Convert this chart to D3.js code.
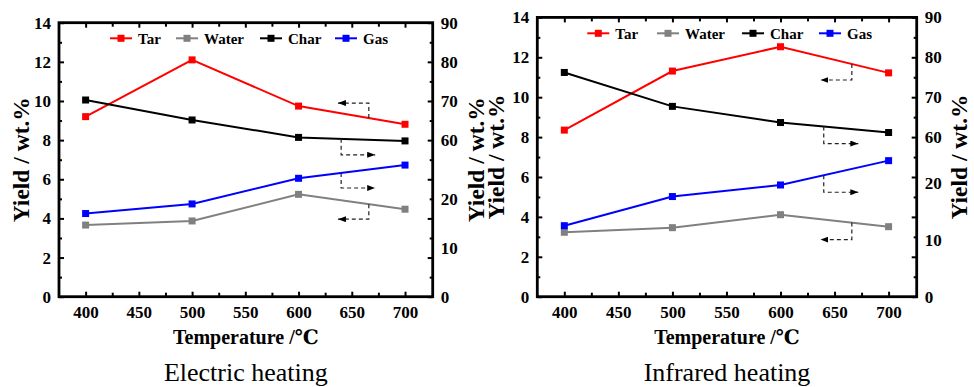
<!DOCTYPE html>
<html><head><meta charset="utf-8">
<script src="https://cdn.jsdelivr.net/npm/d3@7"></script>
<style>body{margin:0;background:#fff}svg{display:block}
svg text{font-family:"Liberation Serif","Times New Roman",Times,"DejaVu Serif",serif;}
</style>
</head><body>
<svg id="chart" width="974" height="387"></svg>
<script>
// ---------------- data ----------------
const temperatures = [400, 500, 600, 700];
const xTickValues = [400, 450, 500, 550, 600, 650, 700];
const xMinorTickValues = [425, 475, 525, 575, 625, 675];
const leftTickValues = [0, 2, 4, 6, 8, 10, 12, 14];
const leftMinorTickValues = [1, 3, 5, 7, 9, 11, 13];
const rightTickValues = [0, 10, 20, 60, 70, 80, 90];
const seriesNames = ["Tar", "Water", "Char", "Gas"];
const seriesColors = ["#ff0000", "#808080", "#000000", "#0000ff"];
const seriesAxis = ["left", "left", "right", "right"];

const electricTar = [9.2, 12.1, 9.74, 8.81];
const electricWater = [3.66, 3.87, 5.23, 4.47];
const electricChar = [70.25, 65.15, 60.7, 59.8];
const electricGas = [17.0, 18.96, 24.2, 26.9];

const infraredTar = [8.35, 11.31, 12.53, 11.22];
const infraredWater = [3.23, 3.46, 4.11, 3.51];
const infraredChar = [76.2, 67.7, 63.65, 61.15];
const infraredGas = [12.46, 17.57, 19.6, 23.87];

const panelTitles = ["Electric heating", "Infrared heating"];
const xTitle = "Temperature /\u2103";
const yTitle = "Yield / wt.%";

// ---------------- layout ----------------
const panels = [
  { title: panelTitles[0], data: [electricTar, electricWater, electricChar, electricGas],
    left: 59, right: 432.7, top: 22.7, bottom: 296.7, lowerFactor: 4,
    legendX: [110, 176, 260, 335], legendY: 38.3,
    yLabelL: 21, yLabelR: 475.5,
    arrows: [ {s: 0, dir: "left", off: -15}, {s: 2, dir: "right", off: 16},
              {s: 3, dir: "right", off: 15}, {s: 1, dir: "left", off: 15} ] },
  { title: panelTitles[1], data: [infraredTar, infraredWater, infraredChar, infraredGas],
    left: 537.3, right: 916.7, top: 17.4, bottom: 296.7, lowerFactor: 3.5,
    legendX: [587.3, 657, 742, 819], legendY: 33.3,
    yLabelL: 496, yLabelR: 959,
    arrows: [ {s: 0, dir: "left", off: 16}, {s: 2, dir: "right", off: 17},
              {s: 3, dir: "right", off: 17}, {s: 1, dir: "left", off: 17} ] }
];

const svg = d3.select("#chart");
svg.append("rect").attr("width", 974).attr("height", 387).attr("fill", "#fff");

const defs = svg.append("defs");
defs.append("marker").attr("id", "ah").attr("viewBox", "0 0 8 6")
  .attr("refX", 8).attr("refY", 3).attr("markerWidth", 8).attr("markerHeight", 6)
  .attr("markerUnits", "userSpaceOnUse").attr("orient", "auto")
  .append("path").attr("d", "M0,0L8,3L0,6Z").attr("fill", "#000");

panels.forEach(p => {
  const g = svg.append("g");
  const x = d3.scaleLinear().domain([375, 726]).range([p.left, p.right]);
  const yL = d3.scaleLinear().domain([0, 14]).range([p.bottom, p.top]);
  const f = p.lowerFactor;
  const yR = d3.scaleLinear().domain([0, 30, 50, 90])
    .range([yL(0), yL(30 / f), yL(6), yL(14)]);
  const scales = { left: yL, right: yR };

  const styleAxis = (sel) => {
    sel.select(".domain").remove();
    sel.attr("font-family", null);
    sel.selectAll(".tick line").attr("stroke", "#000").attr("stroke-width", 2);
    sel.selectAll("text").attr("font-weight", "bold")
      .attr("font-size", 17).attr("fill", "#000");
    return sel;
  };

  styleAxis(g.append("g").attr("transform", `translate(${p.left},0)`)
    .call(d3.axisLeft(yL).tickValues(leftTickValues).tickSize(-5).tickSizeOuter(0).tickPadding(8)));
  styleAxis(g.append("g").attr("transform", `translate(${p.left},0)`)
    .call(d3.axisLeft(yL).tickValues(leftMinorTickValues).tickSize(-3).tickFormat("")));
  styleAxis(g.append("g").attr("transform", `translate(${p.right},0)`)
    .call(d3.axisRight(yL).tickValues(leftTickValues).tickSize(-5).tickFormat("")));
  styleAxis(g.append("g").attr("transform", `translate(${p.right},0)`)
    .call(d3.axisRight(yL).tickValues(leftMinorTickValues).tickSize(-3).tickFormat("")));
  styleAxis(g.append("g").attr("transform", `translate(${p.right},0)`)
    .call(d3.axisRight(yR).tickValues(rightTickValues).tickSize(0).tickPadding(8)));
  styleAxis(g.append("g").attr("transform", `translate(0,${p.bottom})`)
    .call(d3.axisBottom(x).tickValues(xTickValues).tickSize(-5).tickPadding(9)));
  styleAxis(g.append("g").attr("transform", `translate(0,${p.bottom})`)
    .call(d3.axisBottom(x).tickValues(xMinorTickValues).tickSize(-4).tickFormat("")));
  styleAxis(g.append("g").attr("transform", `translate(0,${p.top})`)
    .call(d3.axisTop(x).tickValues(xTickValues).tickSize(-5).tickFormat("")));
  styleAxis(g.append("g").attr("transform", `translate(0,${p.top})`)
    .call(d3.axisTop(x).tickValues(xMinorTickValues).tickSize(-4).tickFormat("")));

  g.append("rect").attr("x", p.left).attr("y", p.top)
    .attr("width", p.right - p.left).attr("height", p.bottom - p.top)
    .attr("fill", "none").attr("stroke", "#000").attr("stroke-width", 2.8);

  p.data.forEach((vals, i) => {
    const ys = scales[seriesAxis[i]];
    const pts = temperatures.map((t, j) => [x(t), ys(vals[j])]);
    g.append("path").attr("d", d3.line()(pts)).attr("fill", "none")
      .attr("stroke", seriesColors[i]).attr("stroke-width", 2);
    g.selectAll(null).data(pts).enter().append("rect")
      .attr("x", d => d[0] - 3.5).attr("y", d => d[1] - 3.5)
      .attr("width", 7).attr("height", 7).attr("fill", seriesColors[i]);
  });

  p.arrows.forEach(a => {
    const ys = scales[seriesAxis[a.s]];
    const interp = d3.scaleLinear().domain(temperatures).range(p.data[a.s]);
    const xv = a.dir === "left" ? 666 : 640;
    const xe = a.dir === "left" ? 637 : 672;
    const y0 = ys(interp(xv));
    const y1 = y0 + a.off;
    g.append("path").attr("d", `M${x(xv)},${y0}L${x(xv)},${y1}L${x(xe)},${y1}`)
      .attr("fill", "none").attr("stroke", "#222").attr("stroke-width", 1.2)
      .attr("stroke-dasharray", "4,3").attr("marker-end", "url(#ah)");
  });

  seriesNames.forEach((n, i) => {
    const lx = p.legendX[i], ly = p.legendY;
    g.append("line").attr("x1", lx).attr("x2", lx + 22).attr("y1", ly).attr("y2", ly)
      .attr("stroke", seriesColors[i]).attr("stroke-width", 2);
    g.append("rect").attr("x", lx + 11 - 3.5).attr("y", ly - 3.5).attr("width", 7).attr("height", 7)
      .attr("fill", seriesColors[i]);
    g.append("text").attr("x", lx + 28).attr("y", ly).attr("dy", "0.35em")
      .attr("font-weight", "bold").attr("font-size", 15).text(n);
  });

  const cx = (p.left + p.right) / 2, cy = (p.top + p.bottom) / 2;
  g.append("text").attr("x", cx).attr("y", 337).attr("dy", "0.35em").attr("text-anchor", "middle")
    .attr("font-weight", "bold").attr("font-size", 20).text(xTitle);
  g.append("text").attr("x", cx).attr("y", 381).attr("text-anchor", "middle")
    .attr("font-size", 26).text(p.title);
  [p.yLabelL, p.yLabelR].forEach(lx => {
    g.append("text").attr("transform", `translate(${lx},${cy}) rotate(-90)`)
      .attr("dy", "0.35em").attr("text-anchor", "middle")
      .attr("font-weight", "bold").attr("font-size", 23.5).text(yTitle);
  });
});
</script>
</body></html>
